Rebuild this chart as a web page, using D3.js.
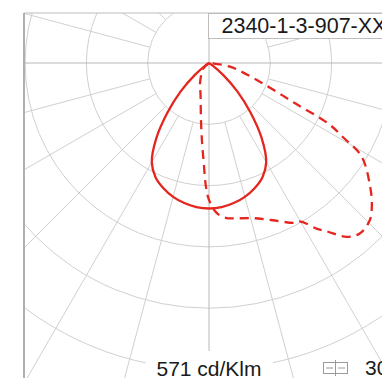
<!DOCTYPE html>
<html><head><meta charset="utf-8">
<script src="https://cdn.jsdelivr.net/npm/d3@7"></script>
<style>html,body{margin:0;padding:0;background:#fff;}svg{display:block;}</style>
</head><body>
<svg id="c" width="382" height="378"></svg>
<script>
// ---- data ----
const title = "2340-1-3-907-XX";
const unitLabel = "571 cd/Klm";
const legendLabel = "30";
const ringValues = [150, 300, 450, 600, 750, 900, 1050];
const spokeAngles = d3.range(0, 360, 15);
// solid curve (plane A): gamma (deg from nadir, + to the right) and intensity (cd/klm)
const solidGamma = [-60, -55, -50, -45, -40, -35, -30, -25, -20, -15, -10, -5, 0, 5, 10, 15, 20, 25, 30, 35, 40, 45, 50, 55, 60];
const solidValue = [0, 12, 45, 98, 158, 225, 280, 309, 326, 339, 348, 354, 356, 354, 348, 339, 326, 309, 280, 225, 158, 98, 45, 12, 0];
// dashed curve (plane B)
const dashGamma = [-90, -45, -24, -15, -8, -5, -3, -1.5, 0, 3, 6.5, 9, 16, 22, 28, 30, 33, 35, 38.4, 41.6, 45.7, 49, 52.5, 58.5, 61, 63, 65, 70, 80, 90];
const dashValue = [0, 20, 54, 80, 141, 195, 245, 300, 335, 368, 382, 385, 395, 415, 443, 448, 483, 503, 543, 557, 550, 528, 497, 438, 375, 330, 230, 130, 52, 0];

// ---- layout ----
const svg = d3.select("#c");
const cx = 209, cy = 63;
const frame = {x: 24, y: 13, w: 400, h: 400};
const r = d3.scaleLinear().domain([0, 150]).range([0, 61.3]);
const gridColor = "#d0d0d0";
const red = "#e5261f";

svg.append("defs").append("clipPath").attr("id", "clip")
  .append("rect").attr("x", frame.x).attr("y", frame.y).attr("width", frame.w).attr("height", frame.h);

const g = svg.append("g").attr("clip-path", "url(#clip)");
const p = g.append("g").attr("transform", `translate(${cx},${cy})`);

// rings
p.selectAll("circle.ring").data(ringValues).join("circle")
  .attr("class", "ring").attr("r", d => r(d))
  .attr("fill", "none").attr("stroke", gridColor).attr("stroke-width", 1);

// spokes (start at first ring), axes go through the centre
p.selectAll("line.spoke").data(spokeAngles).join("line")
  .attr("class", "spoke")
  .attr("x1", d => (d % 90 === 0 ? 0 : r(ringValues[0])) * Math.sin(d * Math.PI / 180))
  .attr("y1", d => (d % 90 === 0 ? 0 : r(ringValues[0])) * Math.cos(d * Math.PI / 180))
  .attr("x2", d => r(1400) * Math.sin(d * Math.PI / 180))
  .attr("y2", d => r(1400) * Math.cos(d * Math.PI / 180))
  .attr("stroke", d => d % 90 === 0 ? "#b8b8b8" : gridColor).attr("stroke-width", 1);

// curves
const radial = d3.lineRadial()
  .angle(d => Math.PI - d[0] * Math.PI / 180)
  .radius(d => r(d[1]))
  .curve(d3.curveCatmullRom.alpha(0.5));

p.append("path").datum(solidGamma.map((a, i) => [a, solidValue[i]]))
  .attr("d", radial).attr("fill", "none").attr("stroke", red).attr("stroke-width", 2.3);
p.append("path").datum(dashGamma.map((a, i) => [a, dashValue[i]]))
  .attr("d", radial).attr("fill", "none").attr("stroke", red).attr("stroke-width", 2.3)
  .attr("stroke-dasharray", "9,6");

// frame
svg.append("line").attr("x1", frame.x).attr("x2", 382).attr("y1", frame.y).attr("y2", frame.y)
  .attr("stroke", "#bdbdbd").attr("stroke-width", 1.2);
svg.append("line").attr("x1", frame.x).attr("x2", frame.x).attr("y1", frame.y).attr("y2", 378)
  .attr("stroke", "#b0b0b0").attr("stroke-width", 2);

// title box
svg.append("rect").attr("x", 208.5).attr("y", 13.5).attr("width", 200).attr("height", 25)
  .attr("fill", "#fff").attr("stroke", "#bdbdbd").attr("stroke-width", 1);
svg.append("text").attr("x", 221.5).attr("y", 32.5).text(title)
  .attr("font-family", "Liberation Sans, Arial, sans-serif").attr("font-size", 21.5).attr("fill", "#1a1a1a");

// bottom label
svg.append("rect").attr("x", 146).attr("y", 351).attr("width", 127).attr("height", 30).attr("fill", "#fff");
svg.append("text").attr("x", 209).attr("y", 375.5).attr("text-anchor", "middle").text(unitLabel)
  .attr("font-family", "Liberation Sans, Arial, sans-serif").attr("font-size", 21).attr("fill", "#1a1a1a");

// legend icon + text
const lg = svg.append("g").attr("stroke", "#9a9a9a").attr("stroke-width", 1).attr("fill", "none");
lg.append("rect").attr("x", 323.5).attr("y", 362.5).attr("width", 24).attr("height", 11).attr("fill", "#fff");
lg.append("line").attr("x1", 335.5).attr("x2", 335.5).attr("y1", 360).attr("y2", 376);
lg.append("line").attr("x1", 326).attr("x2", 333).attr("y1", 368).attr("y2", 368);
lg.append("line").attr("x1", 338).attr("x2", 345).attr("y1", 368).attr("y2", 368);
svg.append("text").attr("x", 365).attr("y", 374.5).text(legendLabel)
  .attr("font-family", "Liberation Sans, Arial, sans-serif").attr("font-size", 21).attr("fill", "#1a1a1a");
</script>
</body></html>
